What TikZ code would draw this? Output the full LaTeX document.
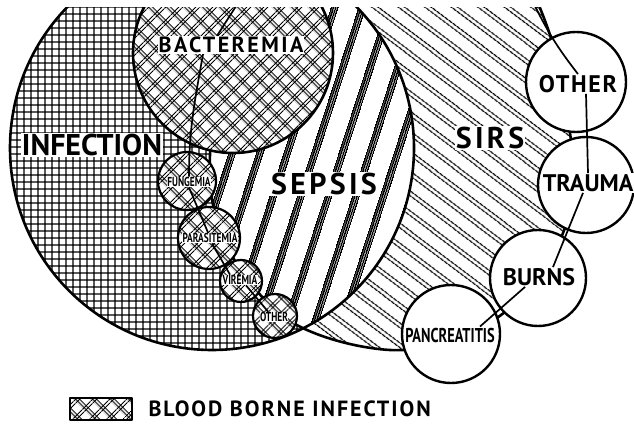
\documentclass[tikz,border=0pt]{standalone}
\usepackage{fontspec}
\setmainfont{PT Sans}
\newfontfamily\narrowsf{PT Sans}[FakeStretch=0.72]
\newfontfamily\widesf{PT Sans}[LetterSpace=7]
\newfontfamily\keysf{PT Sans}[LetterSpace=9]
\newfontfamily\spacedsf{PT Sans}[LetterSpace=11]
\usetikzlibrary{patterns.meta,calc,positioning}
\newcommand{\InfR}{202}
\newcommand{\SirsPath}{plot[smooth cycle, tension=0.65] coordinates {(305,30) (247,-60) (217,-120) (210,-170) (220,-230) (256,-290) (307,-330) (390,-350) (451,-338) (505,-312) (550,-260) (575,-190) (570,-133) (560,-70) (540,-8) (515,40) (410,60)}}

% --- Hatchings ---------------------------------------------------------------
\tikzdeclarepattern{
  name=infgrid,
  bounding box={(0pt,0pt) and (7pt,7pt)},
  tile size={(7pt,7pt)},
  code={
    \draw[line width=1.5pt] (-1pt,3.5pt) -- (8pt,3.5pt) (3.5pt,-1pt) -- (3.5pt,8pt);
  }
}
\tikzdeclarepattern{
  name=sepsisbars,
  bounding box={(0pt,0pt) and (26pt,10pt)},
  tile size={(26pt,10pt)},
  tile transformation={rotate=-18},
  code={
    \foreach \k in {2,3.9,5.8,7.7}
      \draw[line width=1.5pt] (\k pt,-1pt) -- (\k pt,11pt);
  }
}
\tikzdeclarepattern{
  name=sirshatch,
  bounding box={(0pt,0pt) and (10pt,16pt)},
  tile size={(10pt,16pt)},
  tile transformation={rotate=-37},
  code={
    \draw[line width=1.3pt] (-1pt,3pt) -- (11pt,3pt) (-1pt,6.8pt) -- (11pt,6.8pt);
  }
}
\tikzdeclarepattern{
  name=bloodx,
  bounding box={(0pt,0pt) and (12pt,12pt)},
  tile size={(12pt,12pt)},
  tile transformation={rotate=45},
  code={
    \draw[line width=1.1pt] (-1pt,2pt) -- (13pt,2pt) (-1pt,5pt) -- (13pt,5pt);
    \draw[line width=1.1pt] (2pt,-1pt) -- (2pt,13pt) (5pt,-1pt) -- (5pt,13pt);
  }
}

\begin{document}
\begin{tikzpicture}[x=1pt, y=1pt, line join=round,
    rim/.style={draw, line width=2.6pt},
    bub/.style={draw, line width=2.2pt, preaction={fill=white}, pattern=bloodx},
    cause/.style={draw, line width=2.4pt, fill=white},
    chain/.style={line width=1.7pt},
    tag/.style={fill=white, inner sep=1pt},
    big/.style={tag, font=\bfseries\fontsize{30}{30}\selectfont},
    mid/.style={tag, font=\bfseries\fontsize{24}{24}\selectfont},
    tiny/.style={tag, inner sep=0.5pt, font=\narrowsf\bfseries\fontsize{13}{13}\selectfont},
  ]
\useasboundingbox (0,0) rectangle (634,-430);

\begin{scope}
\clip (0,-8) rectangle (634,-430);

% --- Regions -------------------------------------------------------------------
\path[pattern=infgrid] (212,-148) circle (\InfR);
\path[fill=white, postaction={pattern=sirshatch}] \SirsPath;
\begin{scope}
  \clip (212,-148) circle (\InfR);
  \path[fill=white, postaction={pattern=sepsisbars}] \SirsPath;
\end{scope}
\draw[rim] (212,-148) circle (\InfR);
\draw[rim] \SirsPath;

% --- Circles -------------------------------------------------------------------
\path[bub, line width=2.6pt] (233,-53) circle (100);
\path[bub] (187,-181) circle (29);
\path[bub] (209,-238) circle (31);
\path[bub] (241,-281) circle (21);
\path[bub] (275,-316) circle (22);
\path[cause] (576,-82) circle (50);
\path[cause] (586,-185) circle (48);
\path[cause] (538,-278) circle (48);
\path[cause] (451,-334) circle (49);

% --- Labels --------------------------------------------------------------------
\node[big] (inf) at (92,-145) {INFECTION};
\node[tag, font=\spacedsf\bfseries\fontsize{22}{22}\selectfont] (bact) at (231,-45) {BACTEREMIA};
\node[big, font=\spacedsf\bfseries\fontsize{30}{30}\selectfont] (sepsis) at (324,-184) {SEPSIS};
\node[tag, font=\spacedsf\bfseries\fontsize{30}{30}\selectfont] (sirs) at (490,-138) {SIRS};
\node[mid, font=\widesf\bfseries\fontsize{24}{24}\selectfont] (othS) at (578,-84) {OTHER};
\node[mid] (trauma) at (588,-183) {TRAUMA};
\node[mid] (burns) at (539,-277) {BURNS};
\node[tag, font=\narrowsf\bfseries\fontsize{20}{20}\selectfont] (panc) at (450,-335) {PANCREATITIS};
\node[tiny] (fung) at (189,-182) {FUNGEMIA};
\node[tiny] (para) at (210,-238) {PARASITEMIA};
\node[tiny] (vir) at (240,-280) {VIREMIA};
\node[tiny] (othB) at (274,-317) {OTHER};

% --- Chains --------------------------------------------------------------------
\coordinate (bloodtop) at (240,0);
\coordinate (sirstop) at (532,0);
\draw[chain] (bloodtop) -- ($(bact.north)+(-14,0)$);
\draw[chain] ($(bact.south)+(-28,0)$) to[out=-100, in=90] (fung.north);
\draw[chain] (fung.south) -- ($(para.north)+(-2,0)$);
\draw[chain] ($(para.south)+(2,0)$) -- ($(vir.north)+(-10,0)$);
\draw[chain] ($(vir.south)+(6,0)$) -- ($(othB.north)+(-6,0)$);
\draw[chain] (sirstop) to[bend right=6] (othS.north);
\draw[chain] ($(othS.south)+(8,0)$) -- (trauma.north);
\draw[chain] ($(trauma.south)+(-5,0)$) -- ($(burns.north)+(14,0)$);
\draw[chain] ($(burns.south)+(-14,0)$) -- ($(panc.north)+(30,0)$);
\end{scope}

% --- Key -----------------------------------------------------------------------
\node[draw, line width=2pt, minimum width=62, minimum height=22, pattern=bloodx] (key) at (101,-409) {};
\node[right=12pt of key, font=\keysf\bfseries\fontsize{22}{22}\selectfont] (keytext) {BLOOD BORNE INFECTION};
\end{tikzpicture}
\end{document}
